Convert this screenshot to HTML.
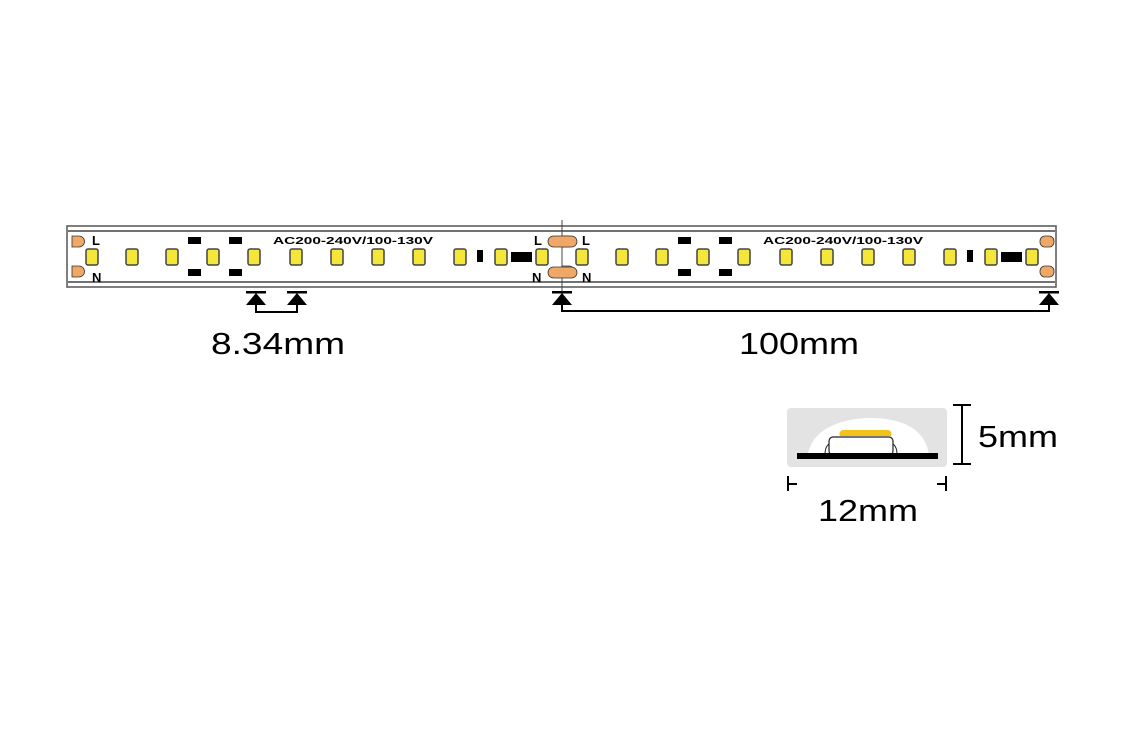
<!DOCTYPE html>
<html><head><style>body{margin:0;background:#fff}</style></head><body>
<svg width="1125" height="750" xmlns="http://www.w3.org/2000/svg" font-family="Liberation Sans, Arial, sans-serif">
<rect x="67" y="226" width="989" height="61" fill="#fff" stroke="#555" stroke-width="1.5"/>
<line x1="68" y1="231" x2="1055" y2="231" stroke="#444" stroke-width="1.5"/>
<line x1="68" y1="282" x2="1055" y2="282" stroke="#444" stroke-width="1.5"/>
<line x1="562" y1="220" x2="562" y2="292" stroke="#444" stroke-width="1"/>
<g id="seg">
<path d="M72,236h7a5,5 0 0 1 0,11h-7z" fill="#f0a868" stroke="#333" stroke-width="0.8"/>
<path d="M72,266h7a5,5 0 0 1 0,11h-7z" fill="#f0a868" stroke="#333" stroke-width="0.8"/>
<text x="92" y="245" font-size="13" font-weight="bold">L</text>
<text x="92" y="282" font-size="13" font-weight="bold">N</text>
<text x="273" y="244" font-size="10" font-weight="bold" textLength="160" lengthAdjust="spacingAndGlyphs">AC200-240V/100-130V</text>
<g fill="#f5e63a" stroke="#444" stroke-width="1.5">
<rect x="86" y="249" width="12" height="16" rx="2"/><rect x="126" y="249" width="12" height="16" rx="2"/>
<rect x="166" y="249" width="12" height="16" rx="2"/><rect x="207" y="249" width="12" height="16" rx="2"/>
<rect x="248" y="249" width="12" height="16" rx="2"/><rect x="290" y="249" width="12" height="16" rx="2"/>
<rect x="331" y="249" width="12" height="16" rx="2"/><rect x="372" y="249" width="12" height="16" rx="2"/>
<rect x="413" y="249" width="12" height="16" rx="2"/><rect x="454" y="249" width="12" height="16" rx="2"/>
<rect x="495" y="249" width="12" height="16" rx="2"/><rect x="536" y="249" width="12" height="16" rx="2"/>
</g>
<g fill="#000">
<rect x="188" y="237" width="13" height="7"/><rect x="229" y="237" width="13" height="7"/>
<rect x="188" y="269" width="13" height="7"/><rect x="229" y="269" width="13" height="7"/>
<rect x="477" y="250" width="6" height="12"/><rect x="511" y="252" width="21" height="10"/>
</g>
</g>
<use href="#seg" x="490"/>
<rect x="548" y="236" width="29" height="11" rx="5.5" fill="#f0a868" stroke="#333" stroke-width="0.8"/>
<rect x="548" y="267" width="29" height="11" rx="5.5" fill="#f0a868" stroke="#333" stroke-width="0.8"/>
<text x="534" y="245" font-size="13" font-weight="bold">L</text>
<text x="532" y="282" font-size="13" font-weight="bold">N</text>
<rect x="1040" y="236" width="14" height="11" rx="5" fill="#f0a868" stroke="#333" stroke-width="0.8"/>
<rect x="1040" y="266" width="14" height="11" rx="5" fill="#f0a868" stroke="#333" stroke-width="0.8"/>
<g fill="#000">
<rect x="246" y="291" width="20" height="2.5"/><path d="M256,293 L246,305 L266,305z"/>
<rect x="287" y="291" width="20" height="2.5"/><path d="M297,293 L287,305 L307,305z"/>
<rect x="552" y="291" width="20" height="2.5"/><path d="M562,293 L552,305 L572,305z"/>
<rect x="1039" y="291" width="20" height="2.5"/><path d="M1049,293 L1039,305 L1059,305z"/>
</g>
<path d="M256,305V312H297V305" fill="none" stroke="#000" stroke-width="2"/>
<path d="M562,305V311H1049V305" fill="none" stroke="#000" stroke-width="2"/>
<text x="211" y="354" font-size="31" textLength="134" lengthAdjust="spacingAndGlyphs">8.34mm</text>
<text x="739" y="354" font-size="31" textLength="120" lengthAdjust="spacingAndGlyphs">100mm</text>
<rect x="787" y="408" width="160" height="59" rx="4" fill="#e3e3e3"/>
<path d="M808,455 C812,425 850,418 870,418 C895,418 925,425 929,455z" fill="#fff"/>
<path d="M843,430h45a4,4 0 0 1 3,6h-51a4,4 0 0 1 3,-6z" fill="#f2c21b"/>
<path d="M833,437h56a4,4 0 0 1 4,4v10a4,4 0 0 1 -4,4h-56a4,4 0 0 1 -4,-4v-10a4,4 0 0 1 4,-4z" fill="#fff" stroke="#222" stroke-width="1.2"/>
<path d="M829,444 C826,446 825,451 825,455 M893,444 C896,446 897,451 897,455" stroke="#222" fill="none"/>
<rect x="797" y="453" width="141" height="6" fill="#000"/>
<path d="M953,405H971M962,405V464M953,464H971" stroke="#000" stroke-width="2" fill="none"/>
<path d="M788,476V491M788,484H797M946,476V491M946,484H937" stroke="#000" stroke-width="2" fill="none"/>
<text x="978" y="447" font-size="31" textLength="80" lengthAdjust="spacingAndGlyphs">5mm</text>
<text x="818" y="521" font-size="31" textLength="100" lengthAdjust="spacingAndGlyphs">12mm</text>
</svg>
</body></html>
